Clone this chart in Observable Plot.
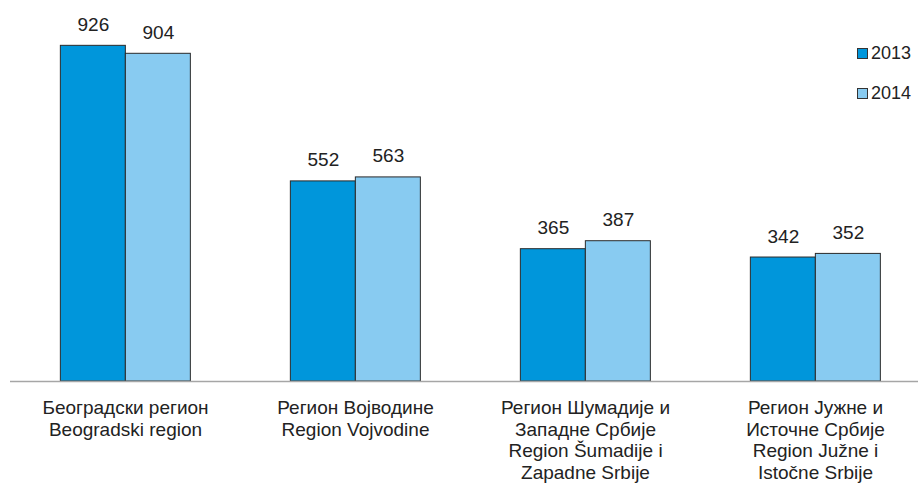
<!DOCTYPE html>
<html><head><meta charset="utf-8">
<script src="https://cdn.jsdelivr.net/npm/d3@7"></script>
<script src="https://cdn.jsdelivr.net/npm/@observablehq/plot@0.6"></script>
<style>
body{margin:0;background:#fff;font-family:"Liberation Sans",Arial,sans-serif;}
#wrap{position:relative;width:918px;height:483px;}
.legend{position:absolute;left:857px;top:0;color:#222;font-size:18px;}
.legend .row{position:absolute;left:0;display:flex;align-items:center;height:20px;line-height:20px;white-space:nowrap;}
.legend .sw{width:9px;height:9px;border:1px solid #333;margin-right:3px;}
</style></head><body><div id="wrap"></div>
<script>
const regions = [
  "Београдски регион\nBeogradski region",
  "Регион Војводине\nRegion Vojvodine",
  "Регион Шумадије и\nЗападне Србије\nRegion Šumadije i\nZapadne Srbije",
  "Регион Јужне и\nИсточне Србије\nRegion Južne i\nIstočne Srbije"
];
const years = ["2013", "2014"];
const values2013 = [926, 552, 365, 342];
const values2014 = [904, 563, 387, 352];
const colors = ["#0096DB", "#88CBF1"];

const data = regions.flatMap((r, i) => [
  {region: r, year: years[0], value: values2013[i]},
  {region: r, year: years[1], value: values2014[i]}
]);

const chart = Plot.plot({
  width: 918, height: 483,
  marginTop: 18.5, marginBottom: 102, marginLeft: 8.65, marginRight: 0,
  fx: {domain: regions, range: [8.65, 931.45], padding: 0, label: null},
  x: {domain: years, axis: null, paddingInner: 0, paddingOuter: 0.748},
  y: {domain: [0, 1000], axis: null},
  color: {domain: years, range: colors},
  style: {fontFamily: '"Liberation Sans", Arial, sans-serif', fontSize: "19px", color: "#222", background: "#fff"},
  marks: [
    Plot.barY(data, {fx: "region", x: "year", y: "value", fill: "year", stroke: "#2a2a2a", strokeWidth: 1}),
    Plot.text(data, {fx: "region", x: "year", y: "value", text: d => String(d.value), lineAnchor: "bottom", dy: -15, fontSize: 19, fill: "#222"}),
    Plot.ruleY([0], {stroke: "#a6a6a6", strokeWidth: 1.5}),
    Plot.axisFx({anchor: "bottom", tickSize: 0, tickPadding: 17, fontSize: 19, lineHeight: 1.14, label: null, tickFormat: d => d, fill: "#222"})
  ]
});
const wrap = document.getElementById("wrap");
wrap.appendChild(chart);

const legend = document.createElement("div");
legend.className = "legend";
years.forEach((y, i) => {
  const row = document.createElement("div");
  row.className = "row";
  row.style.top = (43 + i * 40) + "px";
  const sw = document.createElement("span");
  sw.className = "sw";
  sw.style.background = colors[i];
  const t = document.createElement("span");
  t.textContent = y;
  row.appendChild(sw); row.appendChild(t);
  legend.appendChild(row);
});
wrap.appendChild(legend);
</script></body></html>
